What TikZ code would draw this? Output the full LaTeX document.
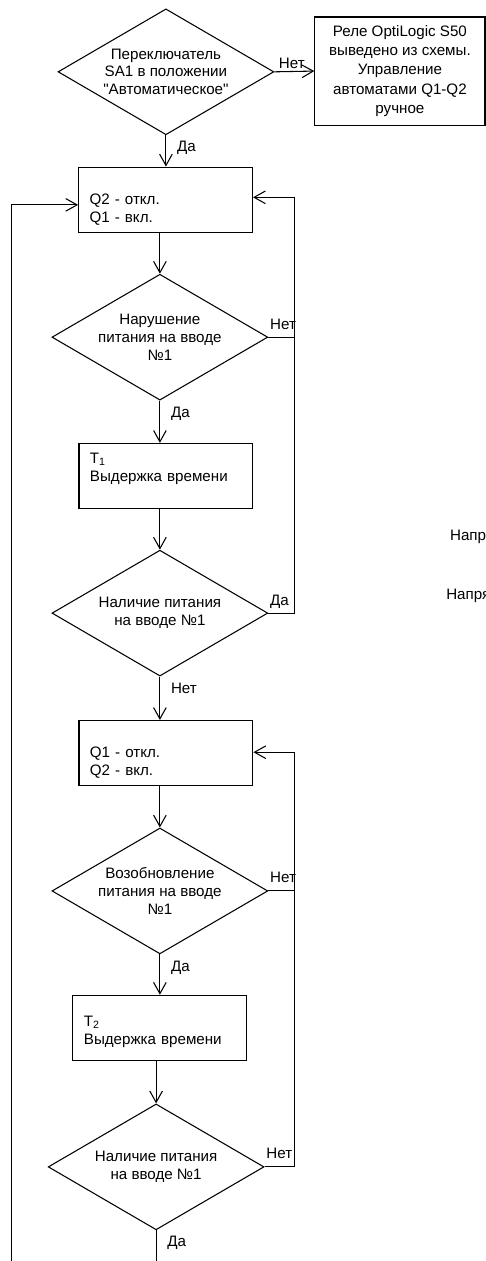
\documentclass[tikz,border=0pt]{standalone}
\usepackage{fontspec}
\setmainfont{Liberation Sans}
\usepackage{xcolor}
\usepackage{tikz}
\usetikzlibrary{shapes.geometric, arrows.meta, positioning}

\begin{document}
\begin{tikzpicture}[%
  every node/.style={font=\fontsize{11.4pt}{13.5pt}\selectfont},%
  decision/.style={draw, diamond, shape aspect=1.7, minimum width=5.71cm, minimum height=3.33cm, inner sep=0pt, align=center, line width=0.8pt},%
  action/.style={draw, rectangle, minimum width=4.6cm, minimum height=1.72cm, text width=4.02cm, inner xsep=0.29cm, align=left, line width=0.8pt},%
  flow/.style={line width=0.8pt, -{Straight Barb[length=8.5pt, width=9.5pt]}},%
  sidelabel/.style={anchor=base west, inner sep=1pt, yshift=6pt},%
  downlabel/.style={anchor=base west, inner sep=1pt, xshift=7pt, yshift=-12.5pt}]%
\useasboundingbox (0, 0) rectangle (12.857, -33.36);%
\node[decision] (sa1) at (4.39, -1.90) {Переключатель\\SA1 в положении\\\textquotedbl Автоматическое\textquotedbl};%
\node[draw, rectangle, minimum width=4.5cm, minimum height=2.86cm, align=center, line width=0.8pt, font=\fontsize{11.4pt}{14.5pt}\selectfont] (manual) at (10.58, -1.88) {Реле OptiLogic S50\\выведено из схемы.\\Управление\\автоматами Q1-Q2\\ручное};%
\node[action] (q1on) at (4.38, -5.28) {\strut\\Q2 - откл.\\Q1 - вкл.};%
\node[decision] (loss1) at (4.23, -8.92) {Нарушение\\питания на вводе\\№1};%
\node[action] (delay1) at (4.39, -12.59) {T\textsubscript{1}\\Выдержка времени\\\mbox{}};%
\node[decision] (check1) at (4.23, -16.22) {Наличие питания\\на вводе №1};%
\node[action] (q2on) at (4.39, -19.92) {\strut\\Q1 - откл.\\Q2 - вкл.};%
\node[decision] (back1) at (4.23, -23.57) {Возобновление\\питания на вводе\\№1};%
\node[action] (delay2) at (4.23, -27.19) {\mbox{}\\T\textsubscript{2}\\Выдержка времени};%
\node[decision] (check2) at (4.13, -30.87) {Наличие питания\\на вводе №1};%
\node[anchor=west, inner sep=0pt] (volt1) at (11.90, -14.21) {Напр};%
\node[anchor=west, inner sep=0pt] (volt2) at (11.80, -15.77) {Напря};%
\coordinate (rloopa) at (7.80, -5.22);%
\coordinate (rloopb) at (7.80, -19.90);%
\coordinate (lloop) at (0.31, -5.42);%
\coordinate (lbot) at (0.31, -33.8);%
\draw[flow] (sa1.east) -- node[sidelabel, pos=0, xshift=2pt, yshift=-3.4pt] {Нет} (manual.west);%
\draw[flow] (sa1.south) -- node[downlabel, pos=0] {Да} (sa1.south |- q1on.north);%
\draw[flow] (loss1.north |- q1on.south) -- (loss1.north);%
\draw[flow] (loss1.south) -- node[downlabel, pos=0] {Да} (loss1.south |- delay1.north);%
\draw[flow] (check1.north |- delay1.south) -- (check1.north);%
\draw[flow] (check1.south) -- node[downlabel, pos=0] {Нет} (check1.south |- q2on.north);%
\draw[flow] (back1.north |- q2on.south) -- (back1.north);%
\draw[flow] (back1.south) -- node[downlabel, pos=0] {Да} (back1.south |- delay2.north);%
\draw[flow] (check2.north |- delay2.south) -- (check2.north);%
\draw[flow] (loss1.east) -| node[sidelabel, pos=0] {Нет} (rloopa) -- (rloopa -| q1on.east);%
\draw[line width=0.8pt] (check1.east) -| node[sidelabel, pos=0] {Да} (rloopa);%
\draw[flow] (back1.east) -| node[sidelabel, pos=0] {Нет} (rloopb) -- (rloopb -| q2on.east);%
\draw[line width=0.8pt] (check2.east) -| node[sidelabel, pos=0] {Нет} (rloopb);%
\draw[flow] (check2.south) -- node[downlabel, pos=0] {Да} (check2.south |- lbot) -- (lbot) -- (lloop) -- (lloop -| q1on.west);%
\end{tikzpicture}
\end{document}
